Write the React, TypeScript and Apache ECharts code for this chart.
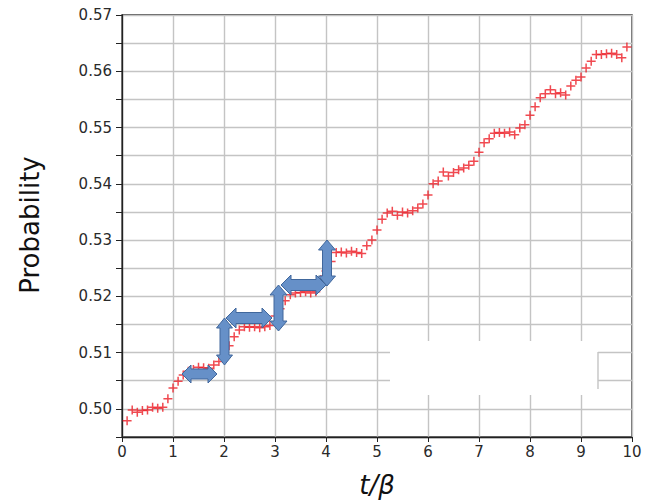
import React, { useEffect, useRef } from "react";
import * as echarts from "echarts";

const tValues = [
  0.1, 0.2, 0.3, 0.4, 0.5, 0.6, 0.7, 0.8, 0.9, 1.0,
  1.1, 1.2, 1.3, 1.4, 1.5, 1.6, 1.7, 1.8, 1.9, 2.0,
  2.1, 2.2, 2.3, 2.4, 2.5, 2.6, 2.7, 2.8, 2.9, 3.0,
  3.1, 3.2, 3.3, 3.4, 3.5, 3.6, 3.7, 3.8, 3.9, 4.0,
  4.1, 4.2, 4.3, 4.4, 4.5, 4.6, 4.7, 4.8, 4.9, 5.0,
  5.1, 5.2, 5.3, 5.4, 5.5, 5.6, 5.7, 5.8, 5.9, 6.0,
  6.1, 6.2, 6.3, 6.4, 6.5, 6.6, 6.7, 6.8, 6.9, 7.0,
  7.1, 7.2, 7.3, 7.4, 7.5, 7.6, 7.7, 7.8, 7.9, 8.0,
  8.1, 8.2, 8.3, 8.4, 8.5, 8.6, 8.7, 8.8, 8.9, 9.0,
  9.1, 9.2, 9.3, 9.4, 9.5, 9.6, 9.7, 9.8, 9.9,
];

const probability = [
  0.4979, 0.4998, 0.4994, 0.4997, 0.4998, 0.5003, 0.5001, 0.5003, 0.5018, 0.5037,
  0.5049, 0.506, 0.5067, 0.507, 0.5074, 0.5073, 0.5072, 0.5078, 0.5084, 0.5095,
  0.5112, 0.5128, 0.514, 0.5146, 0.5145, 0.5146, 0.5144, 0.5146, 0.5148, 0.5165,
  0.5178, 0.5192, 0.5203, 0.5206, 0.5207, 0.5208, 0.5206, 0.5208, 0.523, 0.5245,
  0.5262, 0.5278, 0.5279, 0.5277, 0.528, 0.5278, 0.5276, 0.529, 0.53, 0.5318,
  0.5337, 0.5348, 0.5351, 0.5344, 0.535, 0.5348, 0.5352, 0.5357, 0.5364, 0.538,
  0.54, 0.5405, 0.5421, 0.5414, 0.542, 0.5425, 0.5428, 0.5433, 0.544, 0.5456,
  0.5473, 0.548, 0.549, 0.5491, 0.549, 0.5492, 0.5487, 0.5499, 0.5505, 0.5522,
  0.5537, 0.5553, 0.556, 0.5567, 0.556, 0.5562, 0.5558, 0.5574, 0.5584, 0.559,
  0.5606, 0.5618, 0.563, 0.563, 0.5631, 0.5632, 0.563, 0.5624, 0.5643,
];

const xTicks = [0, 1, 2, 3, 4, 5, 6, 7, 8, 9, 10];
const yLabelValues = [0.5, 0.51, 0.52, 0.53, 0.54, 0.55, 0.56, 0.57];

const ARROW_FILL = "#6690c8";
const ARROW_STROKE = "#40679c";

function hArrow(x1: number, x2: number, c: number, h: number, hb: number, hl: number) {
  return {
    type: "polygon",
    z: 100,
    shape: {
      points: [
        [x1, c], [x1 + hl, c - h / 2], [x1 + hl, c - hb / 2], [x2 - hl, c - hb / 2],
        [x2 - hl, c - h / 2], [x2, c], [x2 - hl, c + h / 2], [x2 - hl, c + hb / 2],
        [x1 + hl, c + hb / 2], [x1 + hl, c + h / 2],
      ],
    },
    style: { fill: ARROW_FILL, stroke: ARROW_STROKE, lineWidth: 1 },
  };
}

function vArrow(y1: number, y2: number, c: number, w: number, wb: number, hl: number) {
  return {
    type: "polygon",
    z: 100,
    shape: {
      points: [
        [c, y1], [c + w / 2, y1 + hl], [c + wb / 2, y1 + hl], [c + wb / 2, y2 - hl],
        [c + w / 2, y2 - hl], [c, y2], [c - w / 2, y2 - hl], [c - wb / 2, y2 - hl],
        [c - wb / 2, y1 + hl], [c - w / 2, y1 + hl],
      ],
    },
    style: { fill: ARROW_FILL, stroke: ARROW_STROKE, lineWidth: 1 },
  };
}

export default function App() {
  const ref = useRef<HTMLDivElement>(null);

  useEffect(() => {
    if (!ref.current) return;
    const chart = echarts.init(ref.current, undefined, { renderer: "svg" });
    const data = tValues.map((t, i) => [t, probability[i]]);
    const font = "DejaVu Sans";

    chart.setOption({
      animation: false,
      backgroundColor: "#ffffff",
      grid: {
        left: 122,
        right: 14,
        top: 15,
        bottom: 65,
        show: true,
        borderColor: "#222",
        borderWidth: 1.3,
        backgroundColor: "transparent",
      },
      xAxis: {
        type: "value",
        min: xTicks[0],
        max: xTicks[xTicks.length - 1],
        interval: 1,
        axisLine: { show: true, onZero: false, lineStyle: { color: "#222", width: 1.3 } },
        axisTick: { show: true, length: 5, lineStyle: { color: "#222", width: 1 } },
        axisLabel: { color: "#2a2a2a", fontSize: 15, fontFamily: font, margin: 7 },
        splitLine: { show: true, lineStyle: { color: "#c4c4c4", width: 1.4 } },
      },
      yAxis: {
        type: "value",
        min: 0.495,
        max: 0.57,
        interval: 0.005,
        axisLine: { show: true, onZero: false, lineStyle: { color: "#222", width: 1.3 } },
        axisTick: { show: true, length: 6, lineStyle: { color: "#222", width: 1 } },
        axisLabel: {
          color: "#2a2a2a",
          fontSize: 15,
          fontFamily: font,
          margin: 10,
          formatter: (v: number) => {
            const hit = yLabelValues.find((y) => Math.abs(y - v) < 1e-6);
            return hit !== undefined ? hit.toFixed(2) : "";
          },
        },
        splitLine: { show: true, lineStyle: { color: "#c4c4c4", width: 1.4 } },
      },
      series: [
        {
          type: "scatter",
          data,
          symbol: "path://M0,5L10,5M5,0L5,10",
          symbolSize: 9,
          itemStyle: { color: "#ec1c24", borderColor: "#ec1c24", borderWidth: 1.5 },
          z: 5,
        },
      ],
      graphic: [
        {
          type: "rect",
          z: 90,
          shape: { x: 390, y: 341, width: 208, height: 54 },
          style: { fill: "#ffffff" },
        },
        {
          type: "line",
          z: 91,
          shape: { x1: 598, y1: 352, x2: 598, y2: 389 },
          style: { stroke: "#c4c4c4", lineWidth: 1.4 },
        },
        hArrow(182, 217, 374, 18, 10, 9),
        vArrow(318, 365, 224.5, 16, 9, 10),
        hArrow(226, 272, 318, 20, 11, 10),
        vArrow(285, 331, 278.5, 17, 9, 10),
        hArrow(281, 326, 285, 20, 11, 10),
        vArrow(240, 286, 327, 17, 9, 10),
        {
          type: "text",
          z: 100,
          x: 30,
          y: 225,
          rotation: Math.PI / 2,
          style: {
            text: "Probability",
            fontSize: 26,
            fontFamily: font,
            fill: "#111",
            align: "center",
            verticalAlign: "middle",
          },
        },
        {
          type: "text",
          z: 100,
          x: 377,
          y: 485,
          style: {
            text: "t/β",
            fontSize: 26,
            fontFamily: font,
            fontStyle: "italic",
            fill: "#111",
            align: "center",
            verticalAlign: "middle",
          },
        },
      ],
    });

    return () => chart.dispose();
  }, []);

  return (
    <div
      ref={ref}
      style={{ position: "absolute", left: 0, top: 0, width: 646, height: 502 }}
    />
  );
}
